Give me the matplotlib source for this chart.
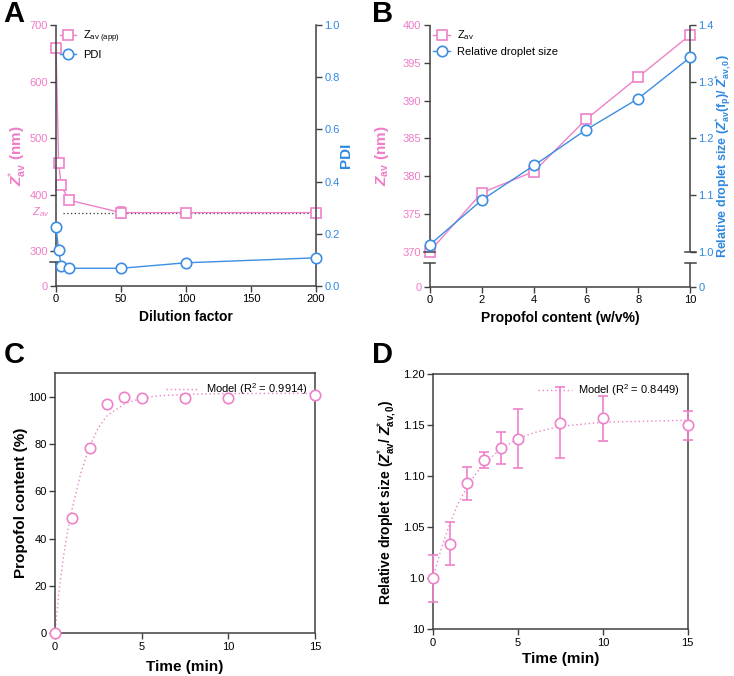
import numpy as np
import matplotlib
matplotlib.use('Agg')
import matplotlib.pyplot as plt
from matplotlib.lines import Line2D

plt.rcParams['font.family'] = ['Liberation Sans', 'DejaVu Sans']
plt.rcParams['mathtext.fontset'] = 'custom'
plt.rcParams['mathtext.rm'] = 'Liberation Sans'
plt.rcParams['mathtext.it'] = 'Liberation Sans:italic'
plt.rcParams['mathtext.bf'] = 'Liberation Sans:bold'
plt.rcParams['mathtext.bfit'] = 'Liberation Sans:bold:italic'

# ---------------- data ----------------
# Panel A
dilution = [0, 2, 4, 10, 50, 100, 200]
z_app = [660, 456, 416, 390, 368, 368, 368]
z_app_err = [0, 0, 0, 0, 10, 0, 0]
pdi = [0.227, 0.138, 0.078, 0.068, 0.068, 0.089, 0.108]
z_av_ref = 368
z_av_ref_x = [5, 200]
a_left_ticks = [0, 300, 400, 500, 600, 700]
a_right_ticks = [0.0, 0.2, 0.4, 0.6, 0.8, 1.0]
a_x_ticks = [0, 50, 100, 150, 200]

# Panel B
propofol = [0, 2, 4, 6, 8, 10]
z_av_b = [370.0, 377.8, 380.6, 387.5, 393.1, 398.7]
rel_b = [1.012, 1.091, 1.152, 1.215, 1.270, 1.343]
b_left_ticks = [0, 370, 375, 380, 385, 390, 395, 400]
b_right_ticks = [0, 1.0, 1.1, 1.2, 1.3, 1.4]
b_x_ticks = [0, 2, 4, 6, 8, 10]

# Panel C
time_c = [0, 1, 2, 3, 4, 5, 7.5, 10, 15]
content_c = [0, 48.7, 78.4, 97.2, 99.9, 99.6, 99.6, 99.6, 100.7]
model_c_t = [0, 0.25, 0.5, 0.75, 1, 1.5, 2, 2.5, 3, 4, 5, 6, 8, 10, 12, 15]
model_c_y = [0, 19, 33, 44, 53, 68, 79, 87, 92, 97, 99.5, 100.5, 101.2, 101.4, 101.5, 101.5]
c_y_ticks = [0, 20, 40, 60, 80, 100]
c_x_ticks = [0, 5, 10, 15]

# Panel D
time_d = [0, 1, 2, 3, 4, 5, 7.5, 10, 15]
rel_d = [1.000, 1.034, 1.093, 1.116, 1.1275, 1.137, 1.1526, 1.1569, 1.150]
rel_d_err = [0.023, 0.021, 0.016, 0.008, 0.0155, 0.0286, 0.0345, 0.022, 0.014]
model_d_t = [0, 0.5, 1, 1.5, 2, 2.5, 3, 4, 5, 6, 7.5, 10, 12.5, 15]
model_d_y = [1.0, 1.030, 1.054, 1.074, 1.089, 1.102, 1.112, 1.127, 1.137, 1.143, 1.149, 1.153, 1.154, 1.155]
d_y_ticks = [0.95, 1.0, 1.05, 1.10, 1.15, 1.20]
d_y_labels = ['10', '1.0', '1.05', '1.10', '1.15', '1.20']
d_x_ticks = [0, 5, 10, 15]

PINK = '#EE82C9'
PINK_T = '#F07CC8'
BLUE = '#3C8DE3'
BLUE_T = '#2F88E0'
SP = '#404040'
LW_SP = 1.1
TICK_FS = 8
LAB_FS = 10

fig = plt.figure(figsize=(7.34, 6.76), dpi=100)


def broken_scale(brk, gap_u, top, top_u):
    # piecewise linear: 0..brk -> 0..gap_u ; brk..top -> gap_u..top_u
    slope = (top_u - gap_u) / (top - brk)
    def fwd(v):
        v = np.asarray(v, dtype=float)
        return np.where(v >= brk, gap_u + (v - brk) * slope, v * gap_u / brk)
    def inv(u):
        u = np.asarray(u, dtype=float)
        return np.where(u >= gap_u, brk + (u - gap_u) / slope, u * brk / gap_u)
    return fwd, inv


def draw_vspine(ax, x, segs, caps):
    for (y0, y1) in segs:
        ax.plot([x, x], [y0, y1], transform=ax.transAxes, color=SP, lw=LW_SP,
                clip_on=False, solid_capstyle='butt', zorder=5)
    for y in caps:
        ax.plot([x - 0.022, x + 0.022], [y, y], transform=ax.transAxes, color=SP,
                lw=LW_SP, clip_on=False, zorder=5)


def style_ticks(ax):
    ax.tick_params(axis='both', direction='out', length=4, width=1.0, color=SP,
                   labelsize=TICK_FS, pad=2)


# ================= Panel A =================
axA = fig.add_axes([0.0763, 0.5769, 0.3542, 0.3861])
fA, iA = broken_scale(300, 35, 700, 261)
axA.set_yscale('function', functions=(fA, iA))
axA.set_ylim(0, 700)
axA.set_xlim(0, 200)
axA2 = axA.twinx()
axA2.set_ylim(0, 1.0)

axA.plot(z_av_ref_x, [z_av_ref, z_av_ref], ls=(0, (1, 2)), color='#333333', lw=0.9, zorder=2)
axA.errorbar(dilution, z_app, yerr=z_app_err, color=PINK, lw=1.0, marker='s', ms=7,
             mfc='white', mec=PINK, mew=1.2, capsize=3, elinewidth=1.0, clip_on=False, zorder=4)
axA2.plot(dilution, pdi, color=BLUE, lw=1.0, marker='o', ms=7.5, mfc='white', mec=BLUE,
          mew=1.2, clip_on=False, zorder=4)

for s in ['top', 'left', 'right']:
    axA.spines[s].set_visible(False)
for s in ['top', 'left']:
    axA2.spines[s].set_visible(False)
axA.spines['bottom'].set_color(SP); axA.spines['bottom'].set_linewidth(LW_SP)
axA2.spines['bottom'].set_visible(False)
axA2.spines['right'].set_color(SP); axA2.spines['right'].set_linewidth(LW_SP)
draw_vspine(axA, 0, [(0, 24 / 261), (35 / 261, 1)], [24 / 261])

axA.set_yticks(a_left_ticks)
axA.set_xticks(a_x_ticks)
axA2.set_yticks(a_right_ticks)
axA2.set_yticklabels(['%.1f' % v for v in a_right_ticks])
style_ticks(axA); style_ticks(axA2)
axA.tick_params(axis='y', labelcolor=PINK_T)
axA2.tick_params(axis='y', labelcolor=BLUE_T)
axA.text(-0.025, z_av_ref, r'$\mathit{Z}_{av}$', transform=axA.get_yaxis_transform(),
         ha='right', va='center', color=PINK_T, fontsize=8)
axA.set_xlabel('Dilution factor', fontsize=LAB_FS, fontweight='bold', labelpad=4)
axA.set_ylabel(r'$\mathbfit{Z}^{*}_{\mathbf{av}}$ (nm)', fontsize=LAB_FS + 1, fontweight='bold', color=PINK_T)
axA.yaxis.set_label_coords(-0.105, 0.5)
axA2.set_ylabel('PDI', fontsize=LAB_FS + 1, fontweight='bold', color=BLUE_T)
axA2.yaxis.set_label_coords(1.09, 0.5)
hA = [Line2D([], [], color=PINK, lw=1.0, marker='s', ms=7, mfc='white', mec=PINK, mew=1.2),
      Line2D([], [], color=BLUE, lw=1.0, marker='o', ms=7.5, mfc='white', mec=BLUE, mew=1.2)]
axA.legend(hA, [r'$\mathrm{Z}_{\mathrm{av\ (app)}}$', 'PDI'], loc='upper left',
           bbox_to_anchor=(-0.025, 1.025), frameon=False, fontsize=8, handlelength=1.5,
           handletextpad=0.6, labelspacing=0.45)

# ================= Panel B =================
axB = fig.add_axes([0.5854, 0.5759, 0.3550, 0.3871])
fB, iB = broken_scale(370, 35, 400, 261)
axB.set_yscale('function', functions=(fB, iB))
axB.set_ylim(0, 400)
axB.set_xlim(0, 10)
axB2 = axB.twinx()
fB2, iB2 = broken_scale(1.0, 35, 1.4, 261)
axB2.set_yscale('function', functions=(fB2, iB2))
axB2.set_ylim(0, 1.4)

axB.plot(propofol, z_av_b, color=PINK, lw=1.0, marker='s', ms=7, mfc='white', mec=PINK,
         mew=1.2, clip_on=False, zorder=4)
axB2.plot(propofol, rel_b, color=BLUE, lw=1.0, marker='o', ms=7.5, mfc='white', mec=BLUE,
          mew=1.2, clip_on=False, zorder=4)
for ax in (axB, axB2):
    for s in ['top', 'left', 'right']:
        ax.spines[s].set_visible(False)
axB2.spines['bottom'].set_visible(False)
axB.spines['bottom'].set_color(SP); axB.spines['bottom'].set_linewidth(LW_SP)
draw_vspine(axB, 0, [(0, 24 / 261), (35 / 261, 1)], [24 / 261, 35 / 261])
draw_vspine(axB, 1, [(0, 24 / 261), (35 / 261, 1)], [24 / 261, 35 / 261])

axB.set_yticks(b_left_ticks)
axB.set_xticks(b_x_ticks)
axB2.set_yticks(b_right_ticks)
axB2.set_yticklabels(['0'] + ['%.1f' % v for v in b_right_ticks[1:]])
style_ticks(axB); style_ticks(axB2)
axB.tick_params(axis='y', labelcolor=PINK_T)
axB2.tick_params(axis='y', labelcolor=BLUE_T)
axB.set_xlabel('Propofol content (w/v%)', fontsize=LAB_FS, fontweight='bold', labelpad=4)
axB.set_ylabel(r'$\mathbfit{Z}_{\mathbf{av}}$ (nm)', fontsize=LAB_FS + 1, fontweight='bold', color=PINK_T)
axB.yaxis.set_label_coords(-0.15, 0.5)
axB2.set_ylabel(r'Relative droplet size ($\mathbfit{Z}^{*}_{\mathbf{av}}$($\mathbf{f}_{\mathbf{p}}$)/ $\mathbfit{Z}^{*}_{\mathbf{av,0}}$)',
                fontsize=9, fontweight='bold', color=BLUE_T)
axB2.yaxis.set_label_coords(1.09, 0.5)
hB = [Line2D([], [], color=PINK, lw=1.0, marker='s', ms=7, mfc='white', mec=PINK, mew=1.2),
      Line2D([], [], color=BLUE, lw=1.0, marker='o', ms=7.5, mfc='white', mec=BLUE, mew=1.2)]
axB.legend(hB, [r'$\mathrm{Z}_{\mathrm{av}}$', 'Relative droplet size'], loc='upper left',
           bbox_to_anchor=(-0.025, 1.025), frameon=False, fontsize=8, handlelength=1.5,
           handletextpad=0.6, labelspacing=0.45)

# ================= Panel C =================
axC = fig.add_axes([0.0749, 0.0632, 0.3542, 0.3846])
axC.plot(model_c_t, model_c_y, ls=(0, (1, 2)), color=PINK, lw=1.0, label=r'Model (R$^2$ = 0.9914)')
axC.plot(time_c, content_c, ls='none', marker='o', ms=7.5, mfc='white', mec=PINK, mew=1.2,
         clip_on=False, zorder=4)
axC.set_xlim(0, 15)
axC.set_ylim(0, 110)
axC.set_xticks(c_x_ticks)
axC.set_yticks(c_y_ticks)
for s in axC.spines.values():
    s.set_color(SP); s.set_linewidth(LW_SP)
style_ticks(axC)
axC.set_xlabel('Time (min)', fontsize=LAB_FS + 1, fontweight='bold', labelpad=6)
axC.set_ylabel('Propofol content (%)', fontsize=LAB_FS + 1, fontweight='bold')
axC.yaxis.set_label_coords(-0.105, 0.5)
axC.legend(loc='upper right', bbox_to_anchor=(1.0, 1.0), frameon=False, fontsize=8,
           handlelength=3, handletextpad=0.6, borderaxespad=0.3)

# ================= Panel D =================
axD = fig.add_axes([0.5899, 0.0691, 0.3470, 0.3772])
axD.plot(model_d_t, model_d_y, ls=(0, (1, 2)), color=PINK, lw=1.0, label=r'Model (R$^2$ = 0.8449)')
axD.errorbar(time_d, rel_d, yerr=rel_d_err, ls='none', marker='o', ms=7.5, mfc='white',
             mec=PINK, mew=1.2, ecolor=PINK, elinewidth=1.2, capsize=3.5, capthick=1.2,
             clip_on=False, zorder=4)
axD.set_xlim(0, 15)
axD.set_ylim(0.95, 1.20)
axD.set_xticks(d_x_ticks)
axD.set_yticks(d_y_ticks)
axD.set_yticklabels(d_y_labels)
for s in axD.spines.values():
    s.set_color(SP); s.set_linewidth(LW_SP)
style_ticks(axD)
axD.set_xlabel('Time (min)', fontsize=LAB_FS + 1, fontweight='bold', labelpad=3)
axD.set_ylabel(r'Relative droplet size ($\mathbfit{Z}^{*}_{\mathbf{av}}$/ $\mathbfit{Z}^{*}_{\mathbf{av,0}}$)',
               fontsize=LAB_FS, fontweight='bold')
axD.yaxis.set_label_coords(-0.135, 0.5)
axD.legend(loc='upper right', bbox_to_anchor=(1.0, 1.0), frameon=False, fontsize=8,
           handlelength=3, handletextpad=0.6, borderaxespad=0.3)

# panel letters
for lab, x, y in [('A', 0.005, 0.979), ('B', 0.507, 0.979), ('C', 0.005, 0.475), ('D', 0.507, 0.475)]:
    fig.text(x, y, lab, fontsize=21, fontweight='bold', ha='left', va='center')

fig.savefig('out.png', dpi=100)
